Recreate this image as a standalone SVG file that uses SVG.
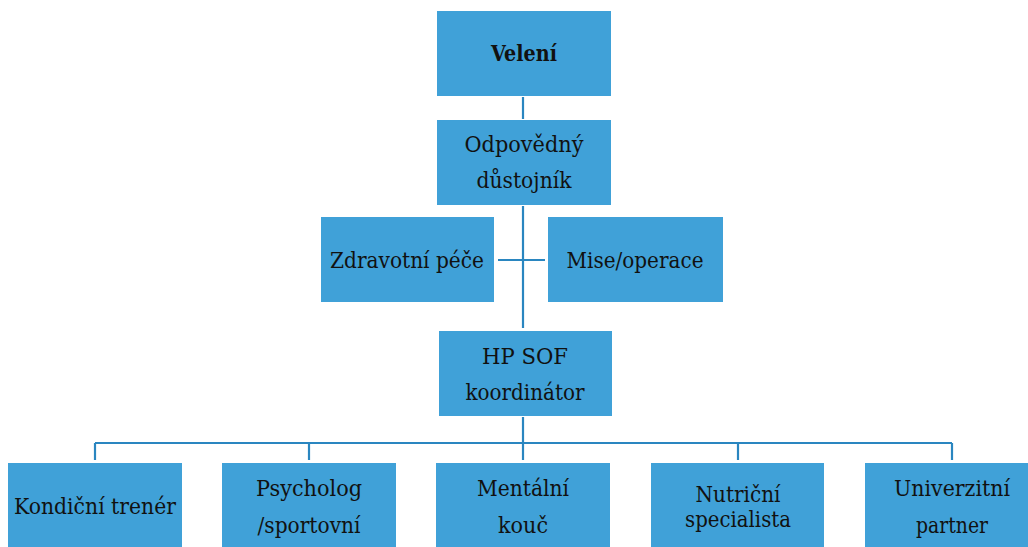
<svg xmlns="http://www.w3.org/2000/svg" width="1028" height="547" viewBox="0 0 1028 547">
<style>
.box{fill:#40A1D8}
.t{font-family:"DejaVu Serif",serif;font-size:22px;fill:#111;text-anchor:middle}
.b{font-weight:bold}
.ln{stroke:#2A86C0;stroke-width:2.2;fill:none}
</style>
<rect width="1028" height="547" fill="#fff"/>
<g id="connectors">
<line class="ln" x1="523" y1="97" x2="523" y2="119"/>
<line class="ln" x1="523" y1="206" x2="523" y2="328"/>
<line class="ln" x1="498" y1="260" x2="545" y2="260"/>
<line class="ln" x1="523" y1="417" x2="523" y2="443"/>
<line class="ln" x1="95" y1="443" x2="952" y2="443"/>
<line class="ln" x1="95" y1="443" x2="95" y2="460"/>
<line class="ln" x1="309" y1="443" x2="309" y2="460"/>
<line class="ln" x1="523" y1="443" x2="523" y2="460"/>
<line class="ln" x1="738" y1="443" x2="738" y2="460"/>
<line class="ln" x1="952" y1="443" x2="952" y2="460"/>
</g>
<g id="veleni"><rect class="box" x="437" y="11" width="174" height="85"/><text class="t b" x="524" y="61" textLength="66" lengthAdjust="spacingAndGlyphs">Velení</text></g>
<g id="odpovedny"><rect class="box" x="437" y="120" width="174" height="85"/><text class="t" x="524" y="152" textLength="119" lengthAdjust="spacingAndGlyphs">Odpovědný</text><text class="t" x="524" y="188" textLength="95" lengthAdjust="spacingAndGlyphs">důstojník</text></g>
<g id="zdravotni"><rect class="box" x="321" y="217" width="173" height="85"/><text class="t" x="407" y="268" textLength="154" lengthAdjust="spacingAndGlyphs">Zdravotní péče</text></g>
<g id="mise"><rect class="box" x="548" y="217" width="175" height="85"/><text class="t" x="635" y="268" textLength="137" lengthAdjust="spacingAndGlyphs">Mise/operace</text></g>
<g id="hpsof"><rect class="box" x="439" y="331" width="173" height="85"/><text class="t" x="525" y="364" textLength="86" lengthAdjust="spacingAndGlyphs">HP SOF</text><text class="t" x="525" y="400" textLength="119" lengthAdjust="spacingAndGlyphs">koordinátor</text></g>
<g id="kondicni"><rect class="box" x="8" y="463" width="174" height="90"/><text class="t" x="95" y="514" textLength="162" lengthAdjust="spacingAndGlyphs">Kondiční trenér</text></g>
<g id="psycholog"><rect class="box" x="222" y="463" width="174" height="90"/><text class="t" x="309" y="496" textLength="106" lengthAdjust="spacingAndGlyphs">Psycholog</text><text class="t" x="309" y="533" textLength="103" lengthAdjust="spacingAndGlyphs">/sportovní</text></g>
<g id="mentalni"><rect class="box" x="436" y="463" width="174" height="90"/><text class="t" x="523" y="496" textLength="92" lengthAdjust="spacingAndGlyphs">Mentální</text><text class="t" x="523" y="533" textLength="50" lengthAdjust="spacingAndGlyphs">kouč</text></g>
<g id="nutricni"><rect class="box" x="651" y="463" width="173" height="90"/><text class="t" x="738" y="502" textLength="85" lengthAdjust="spacingAndGlyphs">Nutriční</text><text class="t" x="738" y="527" textLength="106" lengthAdjust="spacingAndGlyphs">specialista</text></g>
<g id="univerzitni"><rect class="box" x="865" y="463" width="173" height="90"/><text class="t" x="952" y="496" textLength="116" lengthAdjust="spacingAndGlyphs">Univerzitní</text><text class="t" x="952" y="533" textLength="72" lengthAdjust="spacingAndGlyphs">partner</text></g>
</svg>
